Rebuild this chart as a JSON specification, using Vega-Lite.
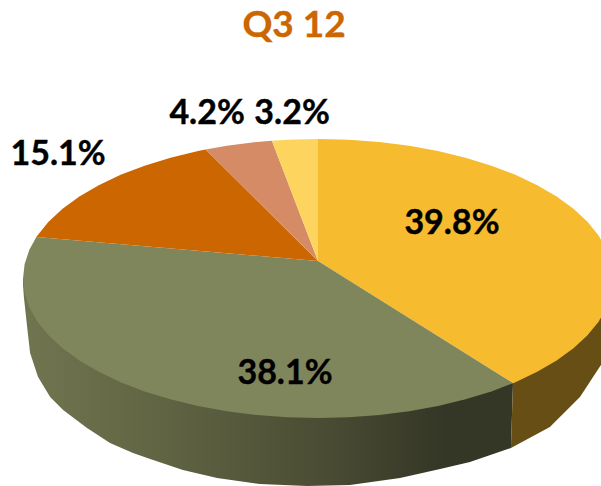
{"$schema":"https://vega.github.io/schema/vega-lite/v6.json","width":601,"height":486,"padding":0,"autosize":{"type":"none"},"background":"white","view":{"stroke":null},
"data":{"values":[
{"s":"wallOlive","i":0,"x":-100,"y":0},{"s":"wallOlive","i":1,"x":-100,"y":-4.7},{"s":"wallOlive","i":2,"x":-99.7,"y":-13.3},{"s":"wallOlive","i":3,"x":-98.6,"y":-34.8},{"s":"wallOlive","i":4,"x":-97.6,"y":-53.4},{"s":"wallOlive","i":5,"x":-94.9,"y":-70.6},{"s":"wallOlive","i":6,"x":-90.8,"y":-84.9},{"s":"wallOlive","i":7,"x":-86.4,"y":-94.3},{"s":"wallOlive","i":8,"x":-78.3,"y":-107.2},{"s":"wallOlive","i":9,"x":-70.5,"y":-117.9},{"s":"wallOlive","i":10,"x":-62.7,"y":-125.1},{"s":"wallOlive","i":11,"x":-56.9,"y":-129.4},{"s":"wallOlive","i":12,"x":-45.8,"y":-137.3},{"s":"wallOlive","i":13,"x":-34.2,"y":-143},{"s":"wallOlive","i":14,"x":-19.7,"y":-147.3},{"s":"wallOlive","i":15,"x":-3.7,"y":-148.7},{"s":"wallOlive","i":16,"x":10.8,"y":-148},{"s":"wallOlive","i":17,"x":27.8,"y":-143},{"s":"wallOlive","i":18,"x":41.4,"y":-136.6},{"s":"wallOlive","i":19,"x":51.5,"y":-131.5},{"s":"wallOlive","i":20,"x":65.4,"y":-121.5},{"s":"wallOlive","i":21,"x":66.1,"y":-75},{"s":"wallOlive","i":22,"x":0,"y":0},
{"s":"wallGold","i":0,"x":66.1,"y":-75},{"s":"wallGold","i":1,"x":65.4,"y":-121.5},{"s":"wallGold","i":2,"x":78.6,"y":-106.5},{"s":"wallGold","i":3,"x":88.8,"y":-84.9},{"s":"wallGold","i":4,"x":95.9,"y":-62},{"s":"wallGold","i":5,"x":100.3,"y":-40.5},{"s":"wallGold","i":6,"x":100,"y":0},
{"s":"gold","i":0,"x":0,"y":12.5},{"s":"gold","i":1,"x":0,"y":100},{"s":"gold","i":2,"x":10.45,"y":99.45},{"s":"gold","i":3,"x":20.79,"y":97.81},{"s":"gold","i":4,"x":30.9,"y":95.11},{"s":"gold","i":5,"x":40.67,"y":91.35},{"s":"gold","i":6,"x":50,"y":86.6},{"s":"gold","i":7,"x":58.78,"y":80.9},{"s":"gold","i":8,"x":66.91,"y":74.31},{"s":"gold","i":9,"x":74.31,"y":66.91},{"s":"gold","i":10,"x":80.9,"y":58.78},{"s":"gold","i":11,"x":86.6,"y":50},{"s":"gold","i":12,"x":91.35,"y":40.67},{"s":"gold","i":13,"x":95.11,"y":30.9},{"s":"gold","i":14,"x":97.81,"y":20.79},{"s":"gold","i":15,"x":99.45,"y":10.45},{"s":"gold","i":16,"x":100,"y":0},{"s":"gold","i":17,"x":99.45,"y":-10.45},{"s":"gold","i":18,"x":97.81,"y":-20.79},{"s":"gold","i":19,"x":95.11,"y":-30.9},{"s":"gold","i":20,"x":91.35,"y":-40.67},{"s":"gold","i":21,"x":86.6,"y":-50},{"s":"gold","i":22,"x":80.9,"y":-58.78},{"s":"gold","i":23,"x":74.31,"y":-66.91},{"s":"gold","i":24,"x":66.91,"y":-74.31},{"s":"gold","i":25,"x":66.1,"y":-75},
{"s":"olive","i":0,"x":0,"y":12.5},{"s":"olive","i":1,"x":66.1,"y":-75},{"s":"olive","i":2,"x":58.78,"y":-80.9},{"s":"olive","i":3,"x":50,"y":-86.6},{"s":"olive","i":4,"x":40.67,"y":-91.35},{"s":"olive","i":5,"x":30.9,"y":-95.11},{"s":"olive","i":6,"x":20.79,"y":-97.81},{"s":"olive","i":7,"x":10.45,"y":-99.45},{"s":"olive","i":8,"x":0,"y":-100},{"s":"olive","i":9,"x":-10.45,"y":-99.45},{"s":"olive","i":10,"x":-20.79,"y":-97.81},{"s":"olive","i":11,"x":-30.9,"y":-95.11},{"s":"olive","i":12,"x":-40.67,"y":-91.35},{"s":"olive","i":13,"x":-50,"y":-86.6},{"s":"olive","i":14,"x":-58.78,"y":-80.9},{"s":"olive","i":15,"x":-66.91,"y":-74.31},{"s":"olive","i":16,"x":-74.31,"y":-66.91},{"s":"olive","i":17,"x":-80.9,"y":-58.78},{"s":"olive","i":18,"x":-86.6,"y":-50},{"s":"olive","i":19,"x":-91.35,"y":-40.67},{"s":"olive","i":20,"x":-95.11,"y":-30.9},{"s":"olive","i":21,"x":-97.81,"y":-20.79},{"s":"olive","i":22,"x":-99.45,"y":-10.45},{"s":"olive","i":23,"x":-100,"y":0},{"s":"olive","i":24,"x":-99.45,"y":10.45},{"s":"olive","i":25,"x":-97.81,"y":20.79},{"s":"olive","i":26,"x":-95.48,"y":29.74},
{"s":"orange","i":0,"x":0,"y":12.5},{"s":"orange","i":1,"x":-95.48,"y":29.74},{"s":"orange","i":2,"x":-95.11,"y":30.9},{"s":"orange","i":3,"x":-91.35,"y":40.67},{"s":"orange","i":4,"x":-86.6,"y":50},{"s":"orange","i":5,"x":-80.9,"y":58.78},{"s":"orange","i":6,"x":-74.31,"y":66.91},{"s":"orange","i":7,"x":-66.91,"y":74.31},{"s":"orange","i":8,"x":-58.78,"y":80.9},{"s":"orange","i":9,"x":-50,"y":86.6},{"s":"orange","i":10,"x":-40.67,"y":91.35},{"s":"orange","i":11,"x":-38.1,"y":92.46},
{"s":"salmon","i":0,"x":0,"y":12.5},{"s":"salmon","i":1,"x":-38.1,"y":92.46},{"s":"salmon","i":2,"x":-30.9,"y":95.11},{"s":"salmon","i":3,"x":-20.79,"y":97.81},{"s":"salmon","i":4,"x":-15.64,"y":98.77},
{"s":"yellow","i":0,"x":0,"y":12.5},{"s":"yellow","i":1,"x":-15.64,"y":98.77},{"s":"yellow","i":2,"x":-10.45,"y":99.45},{"s":"yellow","i":3,"x":0,"y":100}
]},
"encoding":{
"x":{"field":"x","type":"quantitative","scale":{"domain":[-107.8,95.93]},"axis":null},
"y":{"field":"y","type":"quantitative","scale":{"domain":[-148.7,199.6]},"axis":null},
"order":{"field":"i","type":"quantitative"}
},
"layer":[
{"transform":[{"filter":"datum.s==='wallOlive'"}],"mark":{"type":"line","clip":true,"interpolate":"linear-closed","strokeWidth":0,"fill":{"gradient":"linear","x1":0,"x2":1,"y1":0,"y2":0,"stops":[{"offset":0,"color":"#71754f"},{"offset":0.3,"color":"#5f6342"},{"offset":0.6,"color":"#4b4d34"},{"offset":0.87,"color":"#343626"},{"offset":1,"color":"#343626"}]}}},
{"transform":[{"filter":"datum.s==='wallGold'"}],"mark":{"type":"line","clip":true,"interpolate":"linear-closed","strokeWidth":0,"fill":"#664E14"}},
{"transform":[{"filter":"datum.s==='gold'"}],"mark":{"type":"line","clip":true,"interpolate":"linear-closed","strokeWidth":0,"fill":"#F6BB2F"}},
{"transform":[{"filter":"datum.s==='olive'"}],"mark":{"type":"line","clip":true,"interpolate":"linear-closed","strokeWidth":0,"fill":"#80865B"}},
{"transform":[{"filter":"datum.s==='orange'"}],"mark":{"type":"line","clip":true,"interpolate":"linear-closed","strokeWidth":0,"fill":"#CC6600"}},
{"transform":[{"filter":"datum.s==='salmon'"}],"mark":{"type":"line","clip":true,"interpolate":"linear-closed","strokeWidth":0,"fill":"#D68B67"}},
{"transform":[{"filter":"datum.s==='yellow'"}],"mark":{"type":"line","clip":true,"interpolate":"linear-closed","strokeWidth":0,"fill":"#FCD45E"}},
{"data":{"values":[{"x":45.4,"y":39,"label":"39.8%"},{"x":-11.2,"y":-68.4,"label":"38.1%"},{"x":-88.1,"y":88.6,"label":"15.1%"},{"x":-37.6,"y":118,"label":"4.2%"},{"x":-8.8,"y":118,"label":"3.2%"}]},
"mark":{"type":"text","font":"Lato","fontSize":34,"fontWeight":"bold","color":"black","stroke":"black","strokeWidth":0.4,"align":"center","baseline":"middle"},
"encoding":{"text":{"field":"label","type":"nominal"},"order":{"value":null}}},
{"data":{"values":[{"x":-8.1,"y":173.1,"label":"Q3 12"}]},
"mark":{"type":"text","font":"Lato","fontSize":37,"fontWeight":"bold","color":"#CC6600","stroke":"#CC6600","strokeWidth":0.4,"align":"center","baseline":"alphabetic"},
"encoding":{"text":{"field":"label","type":"nominal"},"order":{"value":null}}}
]}
